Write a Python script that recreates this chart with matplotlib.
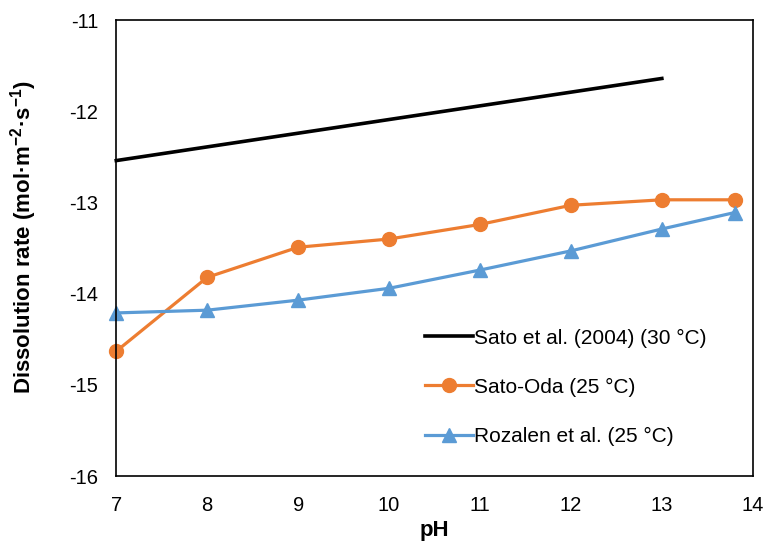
import matplotlib.pyplot as plt

plt.rcParams['font.family'] = ['Liberation Sans', 'DejaVu Sans']
plt.rcParams['axes.unicode_minus'] = False
plt.rcParams['mathtext.fontset'] = 'custom'
plt.rcParams['mathtext.rm'] = 'Liberation Sans:bold'
plt.rcParams['mathtext.bf'] = 'Liberation Sans:bold'
plt.rcParams['mathtext.default'] = 'bf'

# pH values for each data set
ph_sato = [7, 13]
rate_sato = [-12.54, -11.64]

ph_oda = [7, 8, 9, 10, 11, 12, 13, 13.8]
rate_oda = [-14.63, -13.82, -13.49, -13.40, -13.24, -13.03, -12.97, -12.97]

ph_rozalen = [7, 8, 9, 10, 11, 12, 13, 13.8]
rate_rozalen = [-14.21, -14.18, -14.07, -13.94, -13.74, -13.53, -13.29, -13.11]

fig = plt.figure(figsize=(7.65, 5.43), dpi=100)
ax = fig.add_axes([0.152, 0.123, 0.832, 0.840])

ax.plot(ph_sato, rate_sato, color='black', lw=2.6,
        label='Sato et al. (2004) (30 °C)', clip_on=False)
ax.plot(ph_oda, rate_oda, color='#ED7D31', lw=2.3, marker='o', ms=10,
        label='Sato-Oda (25 °C)', clip_on=False)
ax.plot(ph_rozalen, rate_rozalen, color='#5B9BD5', lw=2.3, marker='^', ms=10,
        label='Rozalen et al. (25 °C)', clip_on=False)

ax.set_xlim(7, 14)
ax.set_ylim(-16, -11)
ax.set_xticks(range(7, 15))
ax.set_yticks(range(-16, -10))
ax.tick_params(length=0, labelsize=14.5)
ax.tick_params(axis='x', pad=14)
ax.tick_params(axis='y', pad=13)
for s in ax.spines.values():
    s.set_linewidth(1.2)

ax.set_xlabel('pH', fontsize=16, fontweight='bold', labelpad=4)
ax.set_ylabel('Dissolution rate (mol·m$^{-2}$·s$^{-1}$)', fontsize=16,
              fontweight='bold')
ax.yaxis.set_label_coords(-0.122, 0.525)

ax.legend(loc='lower left', bbox_to_anchor=(0.455, 0.025), frameon=False,
          fontsize=15, labelspacing=1.45, handlelength=2.3, handletextpad=0.05)

fig.savefig('out.png', dpi=100)
